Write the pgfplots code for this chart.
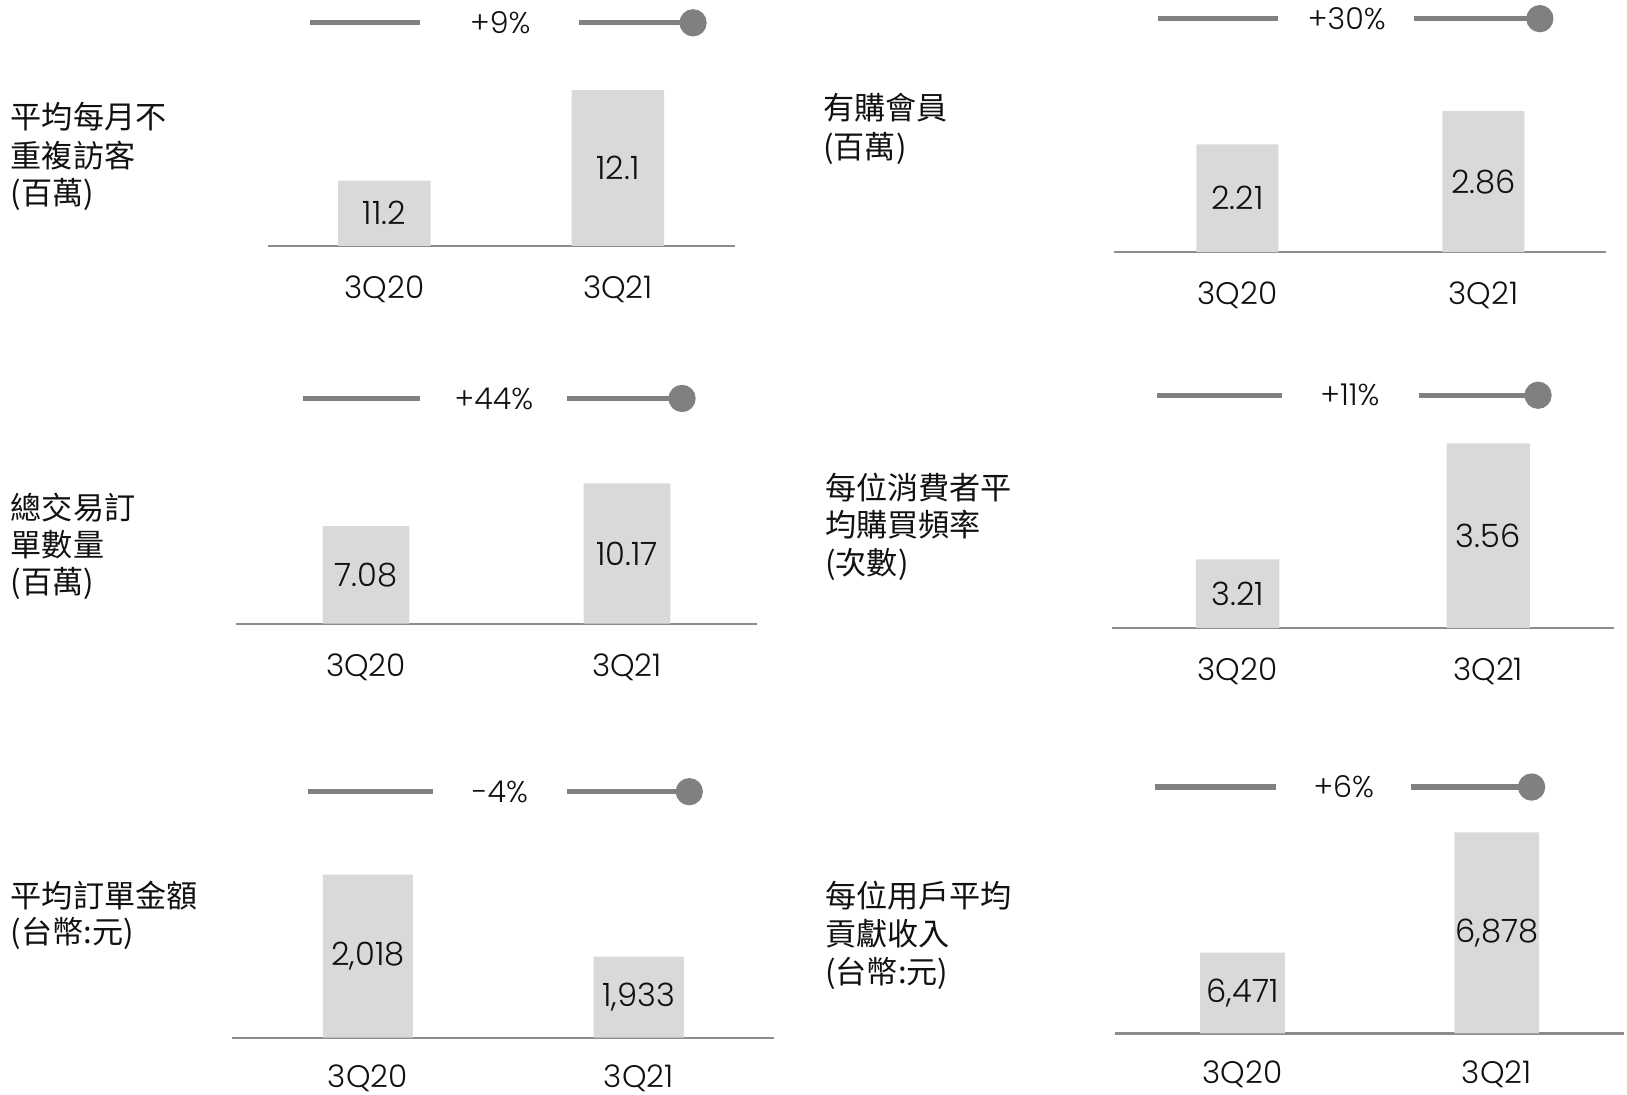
\documentclass[border=0pt]{standalone}
\usepackage{fontspec}
\usepackage{pgfplots}
\pgfplotsset{compat=1.18}
\IfFontExistsTF{Poppins Light}{\setmainfont{Poppins Light}}{\setmainfont{Poppins}}
\newfontfamily\cjk{Noto Sans CJK TC}
\definecolor{barcol}{HTML}{D9D9D9}
\definecolor{linecol}{HTML}{808080}
\definecolor{basecol}{HTML}{8C8C8C}
\definecolor{txtcol}{HTML}{111111}
\newcommand\tickfont{\fontsize{15}{18}\selectfont}
\newcommand\valfont{\fontsize{15.5}{18}\selectfont}
\newcommand\pctfont{\fontsize{14.5}{18}\selectfont}
\newcommand\cjkfont{\cjk\fontsize{15}{18}\selectfont}
\tikzset{pct/.style={font=\pctfont, text=txtcol},
  lab/.style={anchor=west, inner sep=0pt, font=\cjkfont, text=txtcol}}
\pgfplotsset{
  panel/.style={
    scale only axis, anchor=south west,
    xmin=-0.5, xmax=1.5,
    axis y line=none, axis x line*=bottom,
    x axis line style={draw=basecol, line width=1pt, -},
    xtick={0,1}, xticklabels={3Q20,3Q21},
    major tick length=0pt,
    xticklabel style={anchor=center, inner sep=0pt, yshift=-21pt, font=\tickfont, text=txtcol},
  },
  bars/.style={ybar, fill=barcol, draw=none, bar width=#1},
  bars/.default=0.333,
  vals/.style={draw=none, mark=none, nodes near coords, point meta=explicit symbolic,
    nodes near coords style={anchor=center, font=\valfont, text=txtcol}},
  seg/.style={linecol, line width=2.5pt, mark=none},
  segdot/.style={linecol, line width=2.5pt, mark=*, mark indices={2}, mark size=5.3pt,
    mark options={solid, fill=linecol, draw=none}},
}
\begin{document}
\begin{tikzpicture}[x=0.5pt, y=-0.5pt]
\useasboundingbox (0,0) rectangle (1568,1055);
% ---------- Panel 1
\begin{axis}[panel, at={(129pt,-118.5pt)}, width=225pt, height=117.5pt, ymin=10.55, ymax=12.975]
\addplot[bars=0.396] coordinates {(0,11.2) (1,12.1)};
\addplot[vals] coordinates {(0,10.875) [11.2] (1,11.325) [12.1]};
\addplot[seg] coordinates {(-0.318,12.769) (0.153,12.769)};
\addplot[segdot] coordinates {(0.833,12.769) (1.322,12.769)};
\node[pct] at (axis cs:0.496,12.769) {+9\%};
\end{axis}
\node[lab] at (10,112) {平均每月不};
\node[lab] at (10,150) {重複訪客};
\node[lab] at (10,187) {(百萬)};
% ---------- Panel 2
\begin{axis}[panel, at={(537pt,-121.5pt)}, width=237pt, height=122.5pt, ymin=0.0975, ymax=5.077]
\addplot[bars] coordinates {(0,2.21) (1,2.86)};
\addplot[vals] coordinates {(0,1.154) [2.21] (1,1.479) [2.86]};
\addplot[seg] coordinates {(-0.323,4.671) (0.167,4.671)};
\addplot[segdot] coordinates {(0.719,4.671) (1.230,4.671)};
\node[pct] at (axis cs:0.445,4.671) {+30\%};
\end{axis}
\node[lab] at (793,104) {有購會員};
\node[lab] at (793,143) {(百萬)};
% ---------- Panel 3
\begin{axis}[panel, at={(113.5pt,-300.5pt)}, width=251.5pt, height=118.5pt, ymin=0, ymax=17.846]
\addplot[bars] coordinates {(0,7.08) (1,10.17)};
\addplot[vals] coordinates {(0,3.54) [7.08] (1,5.085) [10.17]};
\addplot[seg] coordinates {(-0.243,16.34) (0.207,16.34)};
\addplot[segdot] coordinates {(0.769,16.34) (1.211,16.34)};
\node[pct] at (axis cs:0.49,16.34) {+44\%};
\end{axis}
\node[lab] at (10,489) {總交易訂};
\node[lab] at (10,525) {單數量};
\node[lab] at (10,562) {(百萬)};
% ---------- Panel 4
\begin{axis}[panel, at={(536pt,-302.5pt)}, width=241.5pt, height=122pt, ymin=3.003, ymax=3.768]
\addplot[bars] coordinates {(0,3.21) (1,3.56)};
\addplot[vals] coordinates {(0,3.1065) [3.21] (1,3.2815) [3.56]};
\addplot[seg] coordinates {(-0.320,3.7056) (0.178,3.7056)};
\addplot[segdot] coordinates {(0.722,3.7056) (1.199,3.7056)};
\node[pct] at (axis cs:0.448,3.7056) {+11\%};
\end{axis}
\node[lab] at (795,470) {每位消費者平};
\node[lab] at (795,506) {均購買頻率};
\node[lab] at (795,544) {(次數)};
% ---------- Panel 5
\begin{axis}[panel, at={(112pt,-500pt)}, width=261pt, height=128.5pt, ymin=1849, ymax=2125.6,
  xticklabel style={yshift=1.2pt}]
\addplot[bars] coordinates {(0,2018) (1,1933)};
\addplot[vals] coordinates {(0,1933.5) [{2,018}] (1,1891) [{1,933}]};
\addplot[seg] coordinates {(-0.220,2104.1) (0.239,2104.1)};
\addplot[segdot] coordinates {(0.736,2104.1) (1.187,2104.1)};
\node[pct] at (axis cs:0.488,2104.1) {-4\%};
\end{axis}
\node[lab] at (10,863) {平均訂單金額};
\node[lab] at (10,900) {(台幣:元)};
% ---------- Panel 6
\begin{axis}[panel, at={(537.5pt,-498pt)}, width=245pt, height=128.75pt, ymin=6197, ymax=7101.5,
  xticklabel style={yshift=1.2pt}]
\addplot[bars] coordinates {(0,6471) (1,6878)};
\addplot[vals] coordinates {(0,6334) [{6,471}] (1,6537.5) [{6,878}]};
\addplot[seg] coordinates {(-0.345,7031.2) (0.133,7031.2)};
\addplot[segdot] coordinates {(0.663,7031.2) (1.137,7031.2)};
\node[pct] at (axis cs:0.398,7031.2) {+6\%};
\end{axis}
\node[lab] at (795,863) {每位用戶平均};
\node[lab] at (795,900) {貢獻收入};
\node[lab] at (795,938) {(台幣:元)};
\end{tikzpicture}
\end{document}
